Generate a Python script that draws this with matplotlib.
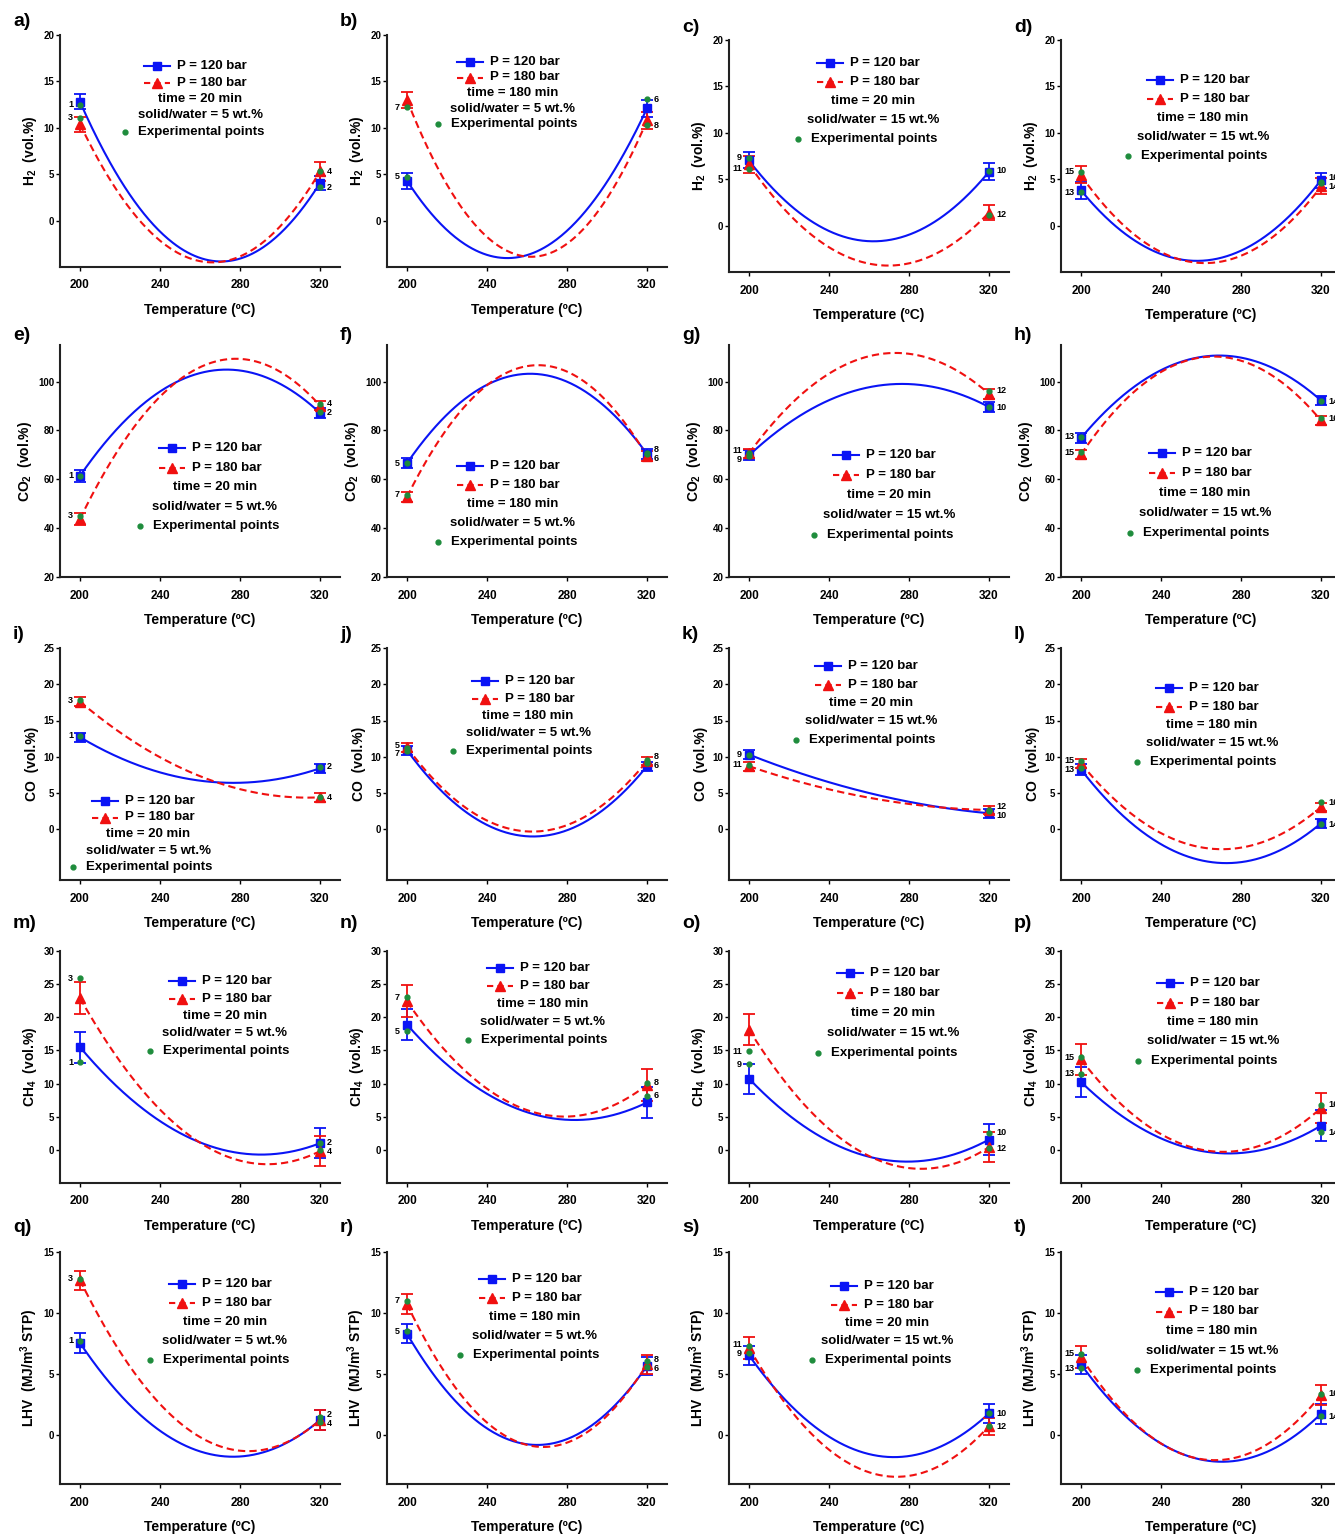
import numpy as np
import matplotlib
matplotlib.use('Agg')
from matplotlib import pyplot as plt

plt.rcParams['font.family'] = ['Liberation Sans', 'DejaVu Sans']
plt.rcParams['font.weight'] = 'bold'
plt.rcParams['mathtext.fontset'] = 'custom'
plt.rcParams['mathtext.rm'] = 'Liberation Sans:bold'
plt.rcParams['mathtext.bf'] = 'Liberation Sans:bold'
plt.rcParams['mathtext.default'] = 'bf'

# conditions of the 4 columns
times = ['20', '180', '20', '180']
solids = ['5', '5', '15', '15']
first_run = [1, 5, 9, 13]

temps = [200, 320]
fit_temps = [200, 260, 320]

# each list: per condition -> [P=120 bar, P=180 bar] -> values at the temperatures
h2_mean = [[[12.8, 4.05], [10.4, 5.3]], [[4.3, 12.1], [13.0, 10.8]],
           [[7.05, 5.8], [6.6, 1.4]], [[3.8, 4.9], [5.5, 4.25]]]
h2_err = [[[0.8, 0.8], [0.8, 1.0]], [[0.85, 0.9], [0.85, 0.9]],
          [[0.85, 0.9], [0.9, 0.85]], [[0.95, 0.8], [0.9, 0.85]]]
h2_exp = [[[12.5, 3.6], [11.1, 5.3]], [[4.7, 13.1], [12.2, 10.3]],
          [[7.3, 5.9], [6.15, 1.15]], [[3.6, 4.6], [5.8, 4.7]]]
h2_fit = [[[12.8, -4.02, 4.05], [10.4, -4.37, 5.3]], [[4.3, -3.72, 12.1], [13.0, -3.88, 10.8]],
          [[7.0, -1.68, 5.8], [6.6, -4.1, 1.4]], [[3.8, -3.79, 4.9], [5.4, -4.03, 4.2]]]

co2_mean = [[[61.4, 87.2], [43.8, 90.2]], [[66.6, 70.4], [52.8, 69.5]],
            [[69.8, 89.6], [70.6, 95.0]], [[76.9, 92.3], [70.2, 84.1]]]
co2_err = [[[2.4, 2.2], [2.5, 2.0]], [[2.1, 2.0], [2.0, 2.0]],
           [[2.0, 2.2], [2.0, 2.0]], [[2.1, 2.0], [2.0, 2.0]]]
co2_exp = [[[61.4, 87.6], [45.1, 90.8]], [[66.6, 70.2], [53.7, 70.8]],
           [[69.5, 89.6], [70.6, 96.2]], [[77.4, 92.0], [71.1, 85.0]]]
co2_fit = [[[61.4, 103.5, 87.2], [43.8, 105.9, 90.2]], [[66.6, 103.2, 70.4], [52.8, 106.35, 69.5]],
           [[69.8, 97.7, 89.6], [70.6, 110.4, 95.0]], [[76.9, 110.1, 92.3], [70.2, 109.9, 84.1]]]

co_mean = [[[12.7, 8.4], [17.6, 4.4]], [[10.9, 8.7], [11.3, 9.4]],
           [[10.3, 2.2], [8.7, 2.65]], [[8.24, 0.82], [9.07, 3.07]]]
co_err = [[[0.6, 0.6], [0.6, 0.6]], [[0.6, 0.6], [0.6, 0.6]],
          [[0.65, 0.6], [0.6, 0.6]], [[0.7, 0.6], [0.6, 0.6]]]
co_exp = [[[12.9, 8.6], [17.8, 4.4]], [[11.2, 9.2], [10.8, 9.6]],
          [[10.3, 2.5], [8.9, 2.65]], [[8.4, 0.7], [9.4, 3.7]]]
co_fit = [[[12.7, 6.7, 8.4], [17.6, 7.32, 4.4]], [[10.9, -0.97, 8.7], [11.3, -0.30, 9.4]],
          [[10.3, 5.0, 2.2], [8.7, 4.35, 2.65]], [[8.24, -4.28, 0.82], [9.07, -2.49, 3.07]]]

ch4_mean = [[[15.5, 1.0], [22.9, -0.2]], [[18.9, 7.15], [22.4, 9.8]],
            [[10.75, 1.55], [18.15, 0.4]], [[10.25, 3.65], [13.65, 6.3]]]
ch4_err = [[[2.35, 2.3], [2.35, 2.3]], [[2.35, 2.35], [2.4, 2.4]],
           [[2.25, 2.3], [2.3, 2.3]], [[2.3, 2.3], [2.3, 2.3]]]
ch4_exp = [[[13.25, 1.0], [25.9, 0.0]], [[17.9, 8.15], [23.05, 10.15]],
           [[12.9, 2.55], [14.9, 0.25]], [[11.5, 2.65], [14.0, 6.8]]]
ch4_fit = [[[15.5, 1.13, 1.0], [22.9, 1.08, -0.2]], [[18.9, 5.68, 7.15], [22.4, 6.0, 9.8]],
           [[10.75, -1.04, 1.55], [18.15, -0.93, 0.4]], [[10.25, -0.16, 3.65], [13.65, 0.04, 6.3]]]

lhv_mean = [[[7.53, 1.23], [12.67, 1.23]], [[8.32, 5.67], [10.73, 5.8]],
            [[6.54, 1.78], [7.17, 0.74]], [[5.8, 1.75], [6.4, 3.28]]]
lhv_err = [[[0.8, 0.8], [0.8, 0.8]], [[0.8, 0.75], [0.8, 0.8]],
           [[0.8, 0.8], [0.9, 0.7]], [[0.8, 0.8], [0.9, 0.8]]]
lhv_exp = [[[7.75, 1.5], [12.8, 1.1]], [[8.5, 5.58], [11.0, 6.08]],
           [[6.76, 1.78], [7.3, 0.74]], [[5.47, 1.56], [6.68, 3.4]]]
lhv_fit = [[[7.55, -1.33, 1.23], [12.7, -0.155, 1.23]], [[8.3, -0.745, 5.67], [10.73, -0.8, 5.8]],
           [[6.54, -1.55, 1.78], [7.17, -3.04, 0.74]], [[5.8, -2.0, 1.75], [6.4, -1.96, 3.28]]]

gases = [
    ('H$_2$  (vol.%)', (-5, 20), [0, 5, 10, 15, 20], h2_mean, h2_err, h2_exp, h2_fit),
    ('CO$_2$  (vol.%)', (20, 115), [20, 40, 60, 80, 100], co2_mean, co2_err, co2_exp, co2_fit),
    ('CO  (vol.%)', (-7, 25), [0, 5, 10, 15, 20, 25], co_mean, co_err, co_exp, co_fit),
    ('CH$_4$  (vol.%)', (-5, 30), [0, 5, 10, 15, 20, 25, 30], ch4_mean, ch4_err, ch4_exp, ch4_fit),
    ('LHV  (MJ/m$^3$ STP)', (-4, 15), [0, 5, 10, 15], lhv_mean, lhv_err, lhv_exp, lhv_fit),
]

letters = 'abcdefghijklmnopqrst'

# legend block placement in px from axes top-left: (centre x, first row y, row step)
legend_pos = [
    [(140, 31, 16.5), (126, 27, 15.5), (144, 23, 19), (142, 40, 19)],
    [(155, 103, 19.5), (126, 121, 19), (160, 110, 20), (144, 108, 20)],
    [(88, 153, 16.5), (141, 33, 17.5), (142, 18, 18.5), (151, 40, 18.5)],
    [(165, 30, 17.5), (156, 17, 18), (164, 22, 20), (152, 32, 19.5)],
    [(165, 32, 19), (148, 27, 19), (158, 34, 18.5), (151, 40, 19.5)],
]

FW, FH = 1335, 1536
W, H = 280, 232
col_left = [60, 387, 729, 1061]
row_top = [35, 345, 648, 951, 1252]
row0_shift = [0, 0, 5, 5]
letter_off = [-13, -10, -13, -28, -24]

BLUE = '#0a14f5'
RED = '#f01010'
GREEN = '#1e8c3c'

fig = plt.figure(figsize=(FW / 100, FH / 100), dpi=100)


def legend_block(ax, cx, top, step, time_txt, sw_txt):
    def fx(dx):
        return (cx + dx) / W

    def fy(i):
        return 1 - (top + i * step) / H

    kw = dict(transform=ax.transAxes, clip_on=False)
    ax.plot([fx(-56), fx(-30)], [fy(0)] * 2, color=BLUE, lw=1.5, **kw)
    ax.plot([fx(-43)], [fy(0)], 's', color=BLUE, ms=5.5, **kw)
    ax.text(fx(-23), fy(0), 'P = 120 bar', ha='left', va='center', fontsize=9.5, transform=ax.transAxes)
    ax.plot([fx(-56), fx(-30)], [fy(1)] * 2, color=RED, lw=1.5, ls=(0, (3, 2)), **kw)
    ax.plot([fx(-43)], [fy(1)], '^', color=RED, ms=6.5, **kw)
    ax.text(fx(-23), fy(1), 'P = 180 bar', ha='left', va='center', fontsize=9.5, transform=ax.transAxes)
    ax.text(fx(0), fy(2), 'time = %s min' % time_txt, ha='center', va='center', fontsize=9.5,
            transform=ax.transAxes)
    ax.text(fx(0), fy(3), 'solid/water = %s wt.%%' % sw_txt, ha='center', va='center', fontsize=9.5,
            transform=ax.transAxes)
    ax.plot([fx(-75)], [fy(4)], 'o', color=GREEN, ms=3.5, **kw)
    ax.text(fx(-62), fy(4), 'Experimental points', ha='left', va='center', fontsize=9.5,
            transform=ax.transAxes)


xs = np.linspace(200, 320, 200)

for r, (ylab, ylim, yticks, mean, err, exp, fit) in enumerate(gases):
    for c in range(4):
        left = col_left[c]
        top = row_top[r] + (row0_shift[c] if r == 0 else 0)
        ax = fig.add_axes([left / FW, 1 - (top + H) / FH, W / FW, H / FH])

        # model curves
        for p, (color, ls) in enumerate([(BLUE, '-'), (RED, (0, (3.5, 2)))]):
            coef = np.polyfit(fit_temps, fit[c][p], 2)
            ax.plot(xs, np.polyval(coef, xs), color=color, ls=ls, lw=1.5, zorder=2)

        # averaged runs with error bars
        ax.errorbar(temps, mean[c][0], yerr=err[c][0], fmt='s', color=BLUE, ms=6,
                    elinewidth=1.3, capsize=4, capthick=1.3, zorder=3)
        ax.errorbar(temps, mean[c][1], yerr=err[c][1], fmt='^', color=RED, ms=7,
                    elinewidth=1.3, capsize=4, capthick=1.3, zorder=3)
        # experimental points
        for p in range(2):
            ax.plot(temps, exp[c][p], 'o', color=GREEN, ms=3.5, zorder=4)

        ax.set_xlim(190, 330)
        ax.set_ylim(*ylim)
        ax.set_xticks([200, 240, 280, 320])
        ax.set_yticks(yticks)
        for s in ['top', 'right']:
            ax.spines[s].set_visible(False)
        for s in ['left', 'bottom']:
            ax.spines[s].set_linewidth(1.5)
            ax.spines[s].set_color('#222222')
        ax.tick_params(axis='y', labelsize=7, length=3, width=1, pad=1)
        ax.tick_params(axis='x', labelsize=8.5, length=3, width=1, pad=6)
        ax.set_ylabel(ylab, fontsize=10, fontweight='bold', labelpad=3)
        ax.set_xlabel('Temperature (ºC)', fontsize=10, fontweight='bold', labelpad=8)

        # run numbers next to the experimental points
        px_per_unit = H / (ylim[1] - ylim[0])
        for t in range(2):
            ys = [exp[c][0][t], exp[c][1][t]]
            nums = [first_run[c] + t, first_run[c] + 2 + t]
            gap = (ys[0] - ys[1]) * px_per_unit
            if abs(gap) < 9:
                mid = (ys[0] + ys[1]) / 2
                sign = 1 if gap >= 0 else -1
                ys = [mid + sign * 4.5 / px_per_unit, mid - sign * 4.5 / px_per_unit]
            for yv, n in zip(ys, nums):
                if t == 0:
                    ax.annotate(str(n), (200, yv), xytext=(-5, 0), textcoords='offset points',
                                ha='right', va='center', fontsize=6.5, annotation_clip=False)
                else:
                    ax.annotate(str(n), (320, yv), xytext=(5, 0), textcoords='offset points',
                                ha='left', va='center', fontsize=6.5, annotation_clip=False)

        cx, ly, step = legend_pos[r][c]
        legend_block(ax, cx, ly, step, times[c], solids[c])

        fig.text((left - 47) / FW, 1 - (top + letter_off[r]) / FH, letters[r * 4 + c] + ')',
                 fontsize=14, fontweight='bold', ha='left', va='center')

plt.savefig('out.png', dpi=100)
